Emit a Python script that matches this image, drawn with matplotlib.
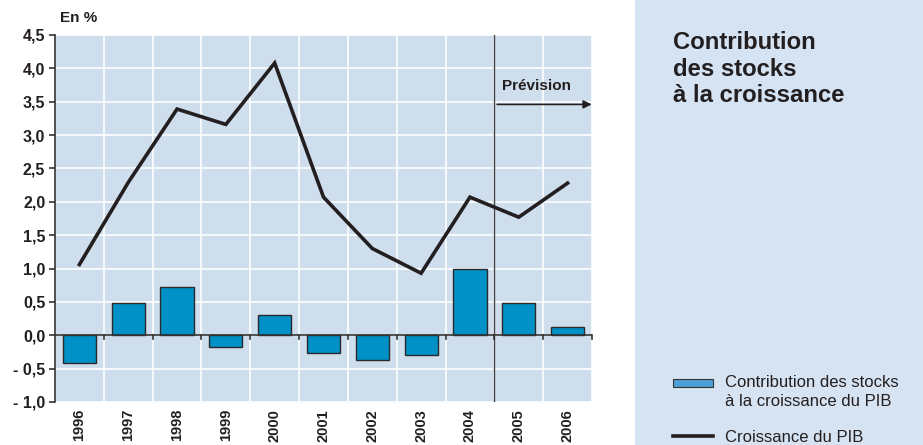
import numpy as np
import matplotlib.pyplot as plt
from matplotlib.patches import Rectangle
from matplotlib.lines import Line2D

plt.rcParams['font.family'] = ['Liberation Sans', 'DejaVu Sans']

# données
annees = ['1996', '1997', '1998', '1999', '2000', '2001', '2002', '2003', '2004', '2005', '2006']
croissance_pib = [1.06, 2.29, 3.39, 3.16, 4.08, 2.07, 1.30, 0.93, 2.07, 1.77, 2.28]
contrib_stocks = [-0.42, 0.49, 0.73, -0.17, 0.31, -0.26, -0.37, -0.30, 1.00, 0.49, 0.13]
yticks = [-1.0, -0.5, 0.0, 0.5, 1.0, 1.5, 2.0, 2.5, 3.0, 3.5, 4.0, 4.5]
ylabels = ['- 1,0', '- 0,5', '0,0', '0,5', '1,0', '1,5', '2,0', '2,5', '3,0', '3,5', '4,0', '4,5']

fig = plt.figure(figsize=(9.23, 4.45), dpi=100)

# panneau de droite
fig.patches.append(Rectangle((635 / 923, 0), 1, 1, transform=fig.transFigure,
                             facecolor='#d6e3f2', edgecolor='none', zorder=0))

ax = fig.add_axes([55 / 923, 43 / 445, 537 / 923, 367 / 445])
ax.set_facecolor('#cfdeed')
x = np.arange(len(annees))

ax.set_xlim(-0.5, len(annees) - 0.5)
ax.set_ylim(-1.0, 4.5)

# grille
for yv in yticks:
    ax.axhline(yv, color='white', lw=1.2, zorder=1)
for xv in np.arange(-0.5, len(annees) + 0.5, 1):
    ax.axvline(xv, color='white', lw=1.2, zorder=1)

ax.bar(x, contrib_stocks, width=0.68, color='#0090c8', edgecolor='#2a2a2a', lw=1.0, zorder=3)
ax.plot(x, croissance_pib, color='#231f20', lw=2.6, zorder=4, solid_joinstyle='miter')

# axe zéro avec petites graduations
ax.axhline(0, color='#333333', lw=1.2, zorder=3.5)
for xv in np.arange(0.5, len(annees) + 0.5, 1):
    ax.plot([xv, xv], [0, -0.06], color='#333333', lw=1.2, zorder=3.5, clip_on=False)

# prévision
ax.axvline(8.5, color='#444444', lw=1.0, zorder=2)
ax.annotate('', xy=(len(annees) - 0.45, 3.46), xytext=(8.5, 3.46),
            arrowprops=dict(arrowstyle='-|>', color='#231f20', lw=1.2, mutation_scale=12),
            annotation_clip=False, zorder=5)
ax.text(8.65, 3.68, 'Prévision', fontsize=11, fontweight='bold', color='#231f20', zorder=5)

for s in ['top', 'right', 'bottom']:
    ax.spines[s].set_visible(False)
ax.spines['left'].set_color('#333333')
ax.spines['left'].set_linewidth(1.2)

ax.set_yticks(yticks)
ax.set_yticklabels(ylabels, fontsize=11.5, fontweight='bold', color='#231f20')
ax.tick_params(axis='y', length=4, width=1.2, color='#333333', pad=3)
ax.set_xticks(x)
ax.set_xticklabels(annees, rotation=90, fontsize=10.5, fontweight='bold', color='#231f20')
ax.tick_params(axis='x', length=0, pad=5)

fig.text(60 / 923, 1 - 18 / 445, 'En %', fontsize=11, fontweight='bold', color='#231f20', va='center')

fig.text(673 / 923, 1 - 31 / 445, 'Contribution\ndes stocks\nà la croissance', fontsize=17.2,
         fontweight='heavy', color='#231f20', va='top', linespacing=1.2)

# légende
fig.patches.append(Rectangle((673 / 923, 1 - 387 / 445), 40 / 923, 8 / 445, transform=fig.transFigure,
                             facecolor='#4ca0d8', edgecolor='#333333', lw=0.8))
fig.text(725 / 923, 1 - 375 / 445, 'Contribution des stocks\nà la croissance du PIB', fontsize=12,
         color='#231f20', va='top', linespacing=1.35)
fig.lines.append(Line2D([673 / 923, 713 / 923], [1 - 436 / 445, 1 - 436 / 445], transform=fig.transFigure,
                        color='#231f20', lw=2.6))
fig.text(725 / 923, 1 - 437 / 445, 'Croissance du PIB', fontsize=12, color='#231f20', va='center')

fig.savefig('out.png', dpi=100)
